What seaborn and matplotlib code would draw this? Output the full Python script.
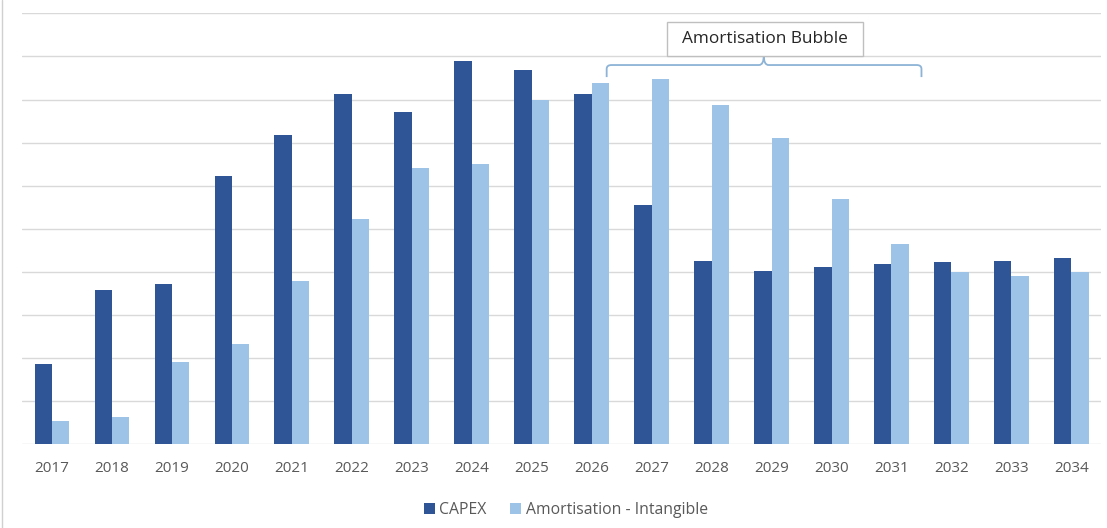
import matplotlib
matplotlib.use("Agg")
import matplotlib.pyplot as plt
from matplotlib.path import Path
from matplotlib.patches import PathPatch, Rectangle
from matplotlib.lines import Line2D
import seaborn as sns
import pandas as pd

years = [str(y) for y in range(2017, 2035)]
capex = [1.86, 3.59, 3.73, 6.22, 7.18, 8.12, 7.71, 8.90, 8.68, 8.12,
         5.55, 4.25, 4.03, 4.12, 4.18, 4.23, 4.26, 4.32]
amortisation = [0.55, 0.64, 1.91, 2.33, 3.79, 5.22, 6.41, 6.50, 8.00, 8.38,
                8.48, 7.87, 7.11, 5.69, 4.64, 4.00, 3.90, 3.99]
series_names = ["CAPEX", "Amortisation - Intangible"]
series_colors = ["#2F5597", "#9DC3E6"]
bubble_label = "Amortisation Bubble"

df = pd.DataFrame({
    "year": years * 2,
    "value": capex + amortisation,
    "series": [series_names[0]] * len(years) + [series_names[1]] * len(years),
})

sns.set_theme(style="white")
plt.rcParams["font.family"] = ["Open Sans", "DejaVu Sans"]

fig = plt.figure(figsize=(11.07, 5.28), dpi=100)
ax = fig.add_axes([0.0199, 0.1585, 0.975, 0.8163])

sns.barplot(data=df, x="year", y="value", hue="series", order=years,
            hue_order=series_names, palette=series_colors, width=0.58,
            saturation=1, linewidth=0, ax=ax)

ax.set_ylim(0, 10)
ax.set_xlim(-0.5, len(years) - 0.5)
ax.set_yticks(range(0, 11))
ax.set_yticklabels([])
ax.yaxis.grid(True, color="#D9D9D9", linewidth=1.0)
ax.set_axisbelow(True)
for s in ax.spines.values():
    s.set_visible(False)
ax.tick_params(axis="y", length=0)
ax.tick_params(axis="x", length=0, pad=12, labelsize=11, labelcolor="#595959")
ax.set_xlabel("")
ax.set_ylabel("")

# bracket over the amortisation bubble years
xl, xr, xm = 9.25, 14.5, 11.87
yb, yh, yt = 8.52, 8.80, 9.02
rx, ry = 0.08, 0.09
verts = [
    (xl, yb), (xl, yh - ry), (xl, yh), (xl + rx, yh),
    (xm - rx, yh), (xm, yh), (xm, yt),
    (xm, yh), (xm + rx, yh),
    (xr - rx, yh), (xr, yh), (xr, yh - ry), (xr, yb),
]
codes = [
    Path.MOVETO, Path.LINETO, Path.CURVE3, Path.CURVE3,
    Path.LINETO, Path.CURVE3, Path.CURVE3,
    Path.CURVE3, Path.CURVE3,
    Path.LINETO, Path.CURVE3, Path.CURVE3, Path.LINETO,
]
ax.add_patch(PathPatch(Path(verts, codes), facecolor="none",
                       edgecolor="#8DB3D6", linewidth=1.3, clip_on=False))

# label box above the bracket
ax.add_patch(Rectangle((10.25, 9.02), 3.28, 0.77, facecolor="white",
                       edgecolor="#BFBFBF", linewidth=1.0, zorder=4))
ax.text(11.89, 9.40, bubble_label, ha="center", va="center",
        fontsize=12.4, color="#262626", zorder=5)

handles, labels = ax.get_legend_handles_labels()
leg = ax.legend(handles, labels, loc="center", bbox_to_anchor=(0.504, -0.153),
                ncol=2, frameon=False, fontsize=11.3, handlelength=0.7,
                handleheight=0.7, handletextpad=0.3, columnspacing=1.5)
for t in leg.get_texts():
    t.set_color("#595959")

fig.add_artist(Line2D([0.0015, 0.0015], [0, 1], transform=fig.transFigure,
                      color="#D0D0D0", linewidth=1.0))

fig.savefig("out.png", dpi=100, facecolor="white")
